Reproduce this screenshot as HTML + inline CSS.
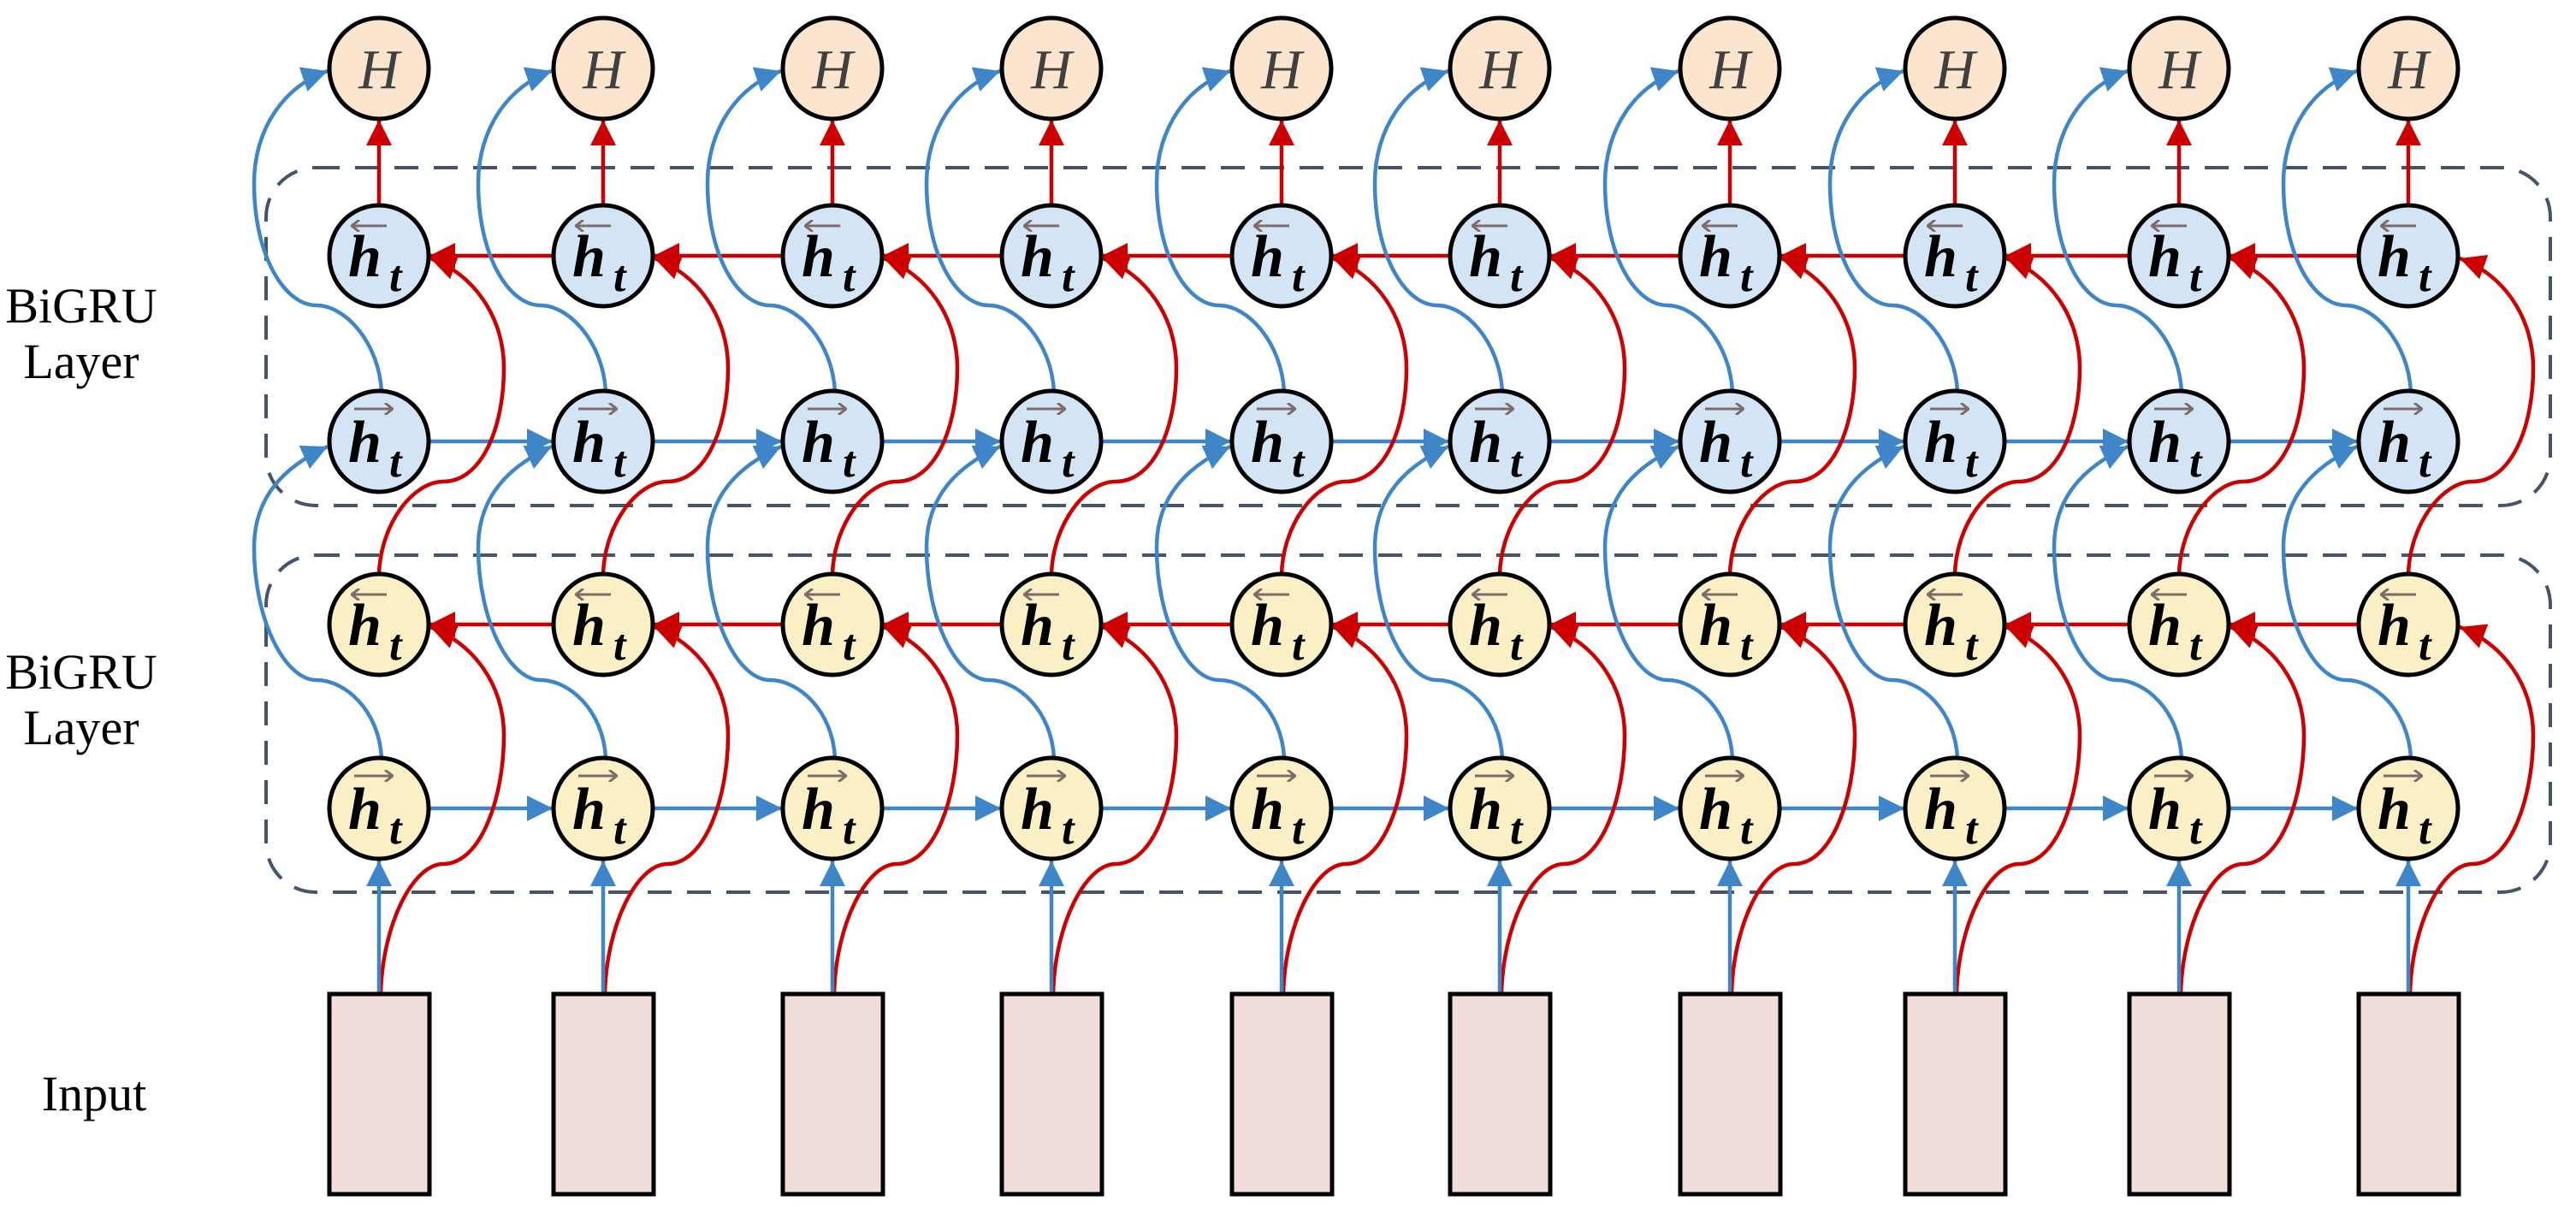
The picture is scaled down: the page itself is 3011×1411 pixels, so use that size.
<!DOCTYPE html>
<html><head><meta charset="utf-8"><style>
html,body{margin:0;padding:0;background:#fff}
svg{display:block}
.b{fill:none;stroke:#3f86c8;stroke-width:4.5}
.r{fill:none;stroke:#cc0000;stroke-width:4.5}
.n{stroke:#000;stroke-width:5}
.hf{fill:#fbe5cf}.bf{fill:#d3e4f5}.yf{fill:#fbefc6}
.h{font-family:"Liberation Serif",serif;font-style:italic;font-weight:bold;font-size:70px;fill:#000}
.t{font-family:"Liberation Serif",serif;font-style:italic;font-weight:bold;font-size:52px;fill:#000}
.H{font-family:"Liberation Serif",serif;font-style:italic;font-size:66px;fill:#404040}
.ar{fill:none;stroke:#7f6a6a;stroke-width:3}
.lbl{font-family:"Liberation Serif",serif;font-size:58px;fill:#000}
</style></head><body>
<svg width="3011" height="1411" viewBox="0 0 3011 1411" xmlns="http://www.w3.org/2000/svg">
<defs>
<marker id="mb" markerUnits="userSpaceOnUse" markerWidth="32" markerHeight="32" refX="30" refY="15" orient="auto"><path d="M0,0 L30,15 L0,30 z" fill="#3f86c8"/></marker>
<marker id="mr" markerUnits="userSpaceOnUse" markerWidth="32" markerHeight="32" refX="30" refY="15" orient="auto"><path d="M0,0 L30,15 L0,30 z" fill="#cc0000"/></marker>
<marker id="ma" markerUnits="userSpaceOnUse" markerWidth="12" markerHeight="14" refX="1" refY="7" orient="auto"><path d="M10,0 L1,7 L10,14" fill="none" stroke="#7f6a6a" stroke-width="3"/></marker>
<marker id="mz" markerUnits="userSpaceOnUse" markerWidth="12" markerHeight="14" refX="11" refY="7" orient="auto"><path d="M2,0 L11,7 L2,14" fill="none" stroke="#7f6a6a" stroke-width="3"/></marker>
<g id="col">
<path class="r" d="M0 240 V140" marker-end="url(#mr)"/>
<path class="b" d="M3 458 C0 400 -40 357 -73 357 C-110 357 -146 300 -146 214 C-146 150 -110 100 -60 83" marker-end="url(#mb)"/>
<path class="b" d="M3 886 C0 830 -40 795 -73 795 C-110 795 -146 725 -146 640 C-146 580 -110 545 -60 522" marker-end="url(#mb)"/>
<path class="r" d="M0 671 C2 612 40 563 75 563 C120 563 146 500 146 430 C146 370 110 320 60 302" marker-end="url(#mr)"/>
<path class="r" d="M2 1162 C4 1080 40 1010 75 1010 C120 1010 146 930 146 860 C146 800 110 752 60 733" marker-end="url(#mr)"/>
<path class="b" d="M0 1162 V1006" marker-end="url(#mb)"/>
<ellipse class="n hf" cx="0" cy="80" rx="58" ry="59"/>
<ellipse class="n bf" cx="0" cy="299" rx="58" ry="59"/>
<ellipse class="n bf" cx="0" cy="516" rx="58" ry="59"/>
<ellipse class="n yf" cx="0" cy="730" rx="58" ry="59"/>
<ellipse class="n yf" cx="0" cy="945" rx="58" ry="59"/>
<rect x="-58" y="1162" width="117" height="234" fill="#f0dcd9" stroke="#000" stroke-width="5"/>
</g>
</defs>
<rect x="311" y="196" width="2670" height="395" rx="58" fill="none" stroke="#44546a" stroke-width="4" stroke-dasharray="28 18"/>
<rect x="311" y="649" width="2670" height="394" rx="58" fill="none" stroke="#44546a" stroke-width="4" stroke-dasharray="28 18"/>
<text class="lbl" x="95" y="377" text-anchor="middle">BiGRU</text>
<text class="lbl" x="95" y="442" text-anchor="middle">Layer</text>
<text class="lbl" x="95" y="805" text-anchor="middle">BiGRU</text>
<text class="lbl" x="95" y="870" text-anchor="middle">Layer</text>
<text class="lbl" x="110" y="1298" text-anchor="middle">Input</text>
<g>
<path class="b" d="M502 516 H646" marker-end="url(#mb)"/><path class="b" d="M764 516 H914" marker-end="url(#mb)"/><path class="b" d="M1032 516 H1170" marker-end="url(#mb)"/><path class="b" d="M1288 516 H1439" marker-end="url(#mb)"/><path class="b" d="M1557 516 H1694" marker-end="url(#mb)"/><path class="b" d="M1812 516 H1963" marker-end="url(#mb)"/><path class="b" d="M2081 516 H2226" marker-end="url(#mb)"/><path class="b" d="M2344 516 H2488" marker-end="url(#mb)"/><path class="b" d="M2606 516 H2756" marker-end="url(#mb)"/>
<path class="b" d="M502 945 H646" marker-end="url(#mb)"/><path class="b" d="M764 945 H914" marker-end="url(#mb)"/><path class="b" d="M1032 945 H1170" marker-end="url(#mb)"/><path class="b" d="M1288 945 H1439" marker-end="url(#mb)"/><path class="b" d="M1557 945 H1694" marker-end="url(#mb)"/><path class="b" d="M1812 945 H1963" marker-end="url(#mb)"/><path class="b" d="M2081 945 H2226" marker-end="url(#mb)"/><path class="b" d="M2344 945 H2488" marker-end="url(#mb)"/><path class="b" d="M2606 945 H2756" marker-end="url(#mb)"/>
<path class="r" d="M646 299 H502" marker-end="url(#mr)"/><path class="r" d="M914 299 H764" marker-end="url(#mr)"/><path class="r" d="M1170 299 H1032" marker-end="url(#mr)"/><path class="r" d="M1439 299 H1288" marker-end="url(#mr)"/><path class="r" d="M1694 299 H1557" marker-end="url(#mr)"/><path class="r" d="M1963 299 H1812" marker-end="url(#mr)"/><path class="r" d="M2226 299 H2081" marker-end="url(#mr)"/><path class="r" d="M2488 299 H2344" marker-end="url(#mr)"/><path class="r" d="M2756 299 H2606" marker-end="url(#mr)"/>
<path class="r" d="M646 730 H502" marker-end="url(#mr)"/><path class="r" d="M914 730 H764" marker-end="url(#mr)"/><path class="r" d="M1170 730 H1032" marker-end="url(#mr)"/><path class="r" d="M1439 730 H1288" marker-end="url(#mr)"/><path class="r" d="M1694 730 H1557" marker-end="url(#mr)"/><path class="r" d="M1963 730 H1812" marker-end="url(#mr)"/><path class="r" d="M2226 730 H2081" marker-end="url(#mr)"/><path class="r" d="M2488 730 H2344" marker-end="url(#mr)"/><path class="r" d="M2756 730 H2606" marker-end="url(#mr)"/>
</g>
<use href="#col" x="443"/><use href="#col" x="705"/><use href="#col" x="973"/><use href="#col" x="1229"/><use href="#col" x="1498"/><use href="#col" x="1753"/><use href="#col" x="2022"/><use href="#col" x="2285"/><use href="#col" x="2547"/><use href="#col" x="2815"/>
<g>
<text class="H" x="443" y="103" text-anchor="middle">H</text><text class="H" x="705" y="103" text-anchor="middle">H</text><text class="H" x="973" y="103" text-anchor="middle">H</text><text class="H" x="1229" y="103" text-anchor="middle">H</text><text class="H" x="1498" y="103" text-anchor="middle">H</text><text class="H" x="1753" y="103" text-anchor="middle">H</text><text class="H" x="2022" y="103" text-anchor="middle">H</text><text class="H" x="2285" y="103" text-anchor="middle">H</text><text class="H" x="2547" y="103" text-anchor="middle">H</text><text class="H" x="2815" y="103" text-anchor="middle">H</text>
</g>
<g>
<text class="h" x="407" y="323">h</text><text class="t" x="455" y="340">t</text>
<text class="h" x="669" y="323">h</text><text class="t" x="717" y="340">t</text>
<text class="h" x="937" y="323">h</text><text class="t" x="985" y="340">t</text>
<text class="h" x="1193" y="323">h</text><text class="t" x="1241" y="340">t</text>
<text class="h" x="1462" y="323">h</text><text class="t" x="1510" y="340">t</text>
<text class="h" x="1717" y="323">h</text><text class="t" x="1765" y="340">t</text>
<text class="h" x="1986" y="323">h</text><text class="t" x="2034" y="340">t</text>
<text class="h" x="2249" y="323">h</text><text class="t" x="2297" y="340">t</text>
<text class="h" x="2511" y="323">h</text><text class="t" x="2559" y="340">t</text>
<text class="h" x="2779" y="323">h</text><text class="t" x="2827" y="340">t</text>
</g>
<g>
<text class="h" x="407" y="540">h</text><text class="t" x="455" y="557">t</text>
<text class="h" x="669" y="540">h</text><text class="t" x="717" y="557">t</text>
<text class="h" x="937" y="540">h</text><text class="t" x="985" y="557">t</text>
<text class="h" x="1193" y="540">h</text><text class="t" x="1241" y="557">t</text>
<text class="h" x="1462" y="540">h</text><text class="t" x="1510" y="557">t</text>
<text class="h" x="1717" y="540">h</text><text class="t" x="1765" y="557">t</text>
<text class="h" x="1986" y="540">h</text><text class="t" x="2034" y="557">t</text>
<text class="h" x="2249" y="540">h</text><text class="t" x="2297" y="557">t</text>
<text class="h" x="2511" y="540">h</text><text class="t" x="2559" y="557">t</text>
<text class="h" x="2779" y="540">h</text><text class="t" x="2827" y="557">t</text>
</g>
<g>
<text class="h" x="407" y="754">h</text><text class="t" x="455" y="771">t</text>
<text class="h" x="669" y="754">h</text><text class="t" x="717" y="771">t</text>
<text class="h" x="937" y="754">h</text><text class="t" x="985" y="771">t</text>
<text class="h" x="1193" y="754">h</text><text class="t" x="1241" y="771">t</text>
<text class="h" x="1462" y="754">h</text><text class="t" x="1510" y="771">t</text>
<text class="h" x="1717" y="754">h</text><text class="t" x="1765" y="771">t</text>
<text class="h" x="1986" y="754">h</text><text class="t" x="2034" y="771">t</text>
<text class="h" x="2249" y="754">h</text><text class="t" x="2297" y="771">t</text>
<text class="h" x="2511" y="754">h</text><text class="t" x="2559" y="771">t</text>
<text class="h" x="2779" y="754">h</text><text class="t" x="2827" y="771">t</text>
</g>
<g>
<text class="h" x="407" y="969">h</text><text class="t" x="455" y="986">t</text>
<text class="h" x="669" y="969">h</text><text class="t" x="717" y="986">t</text>
<text class="h" x="937" y="969">h</text><text class="t" x="985" y="986">t</text>
<text class="h" x="1193" y="969">h</text><text class="t" x="1241" y="986">t</text>
<text class="h" x="1462" y="969">h</text><text class="t" x="1510" y="986">t</text>
<text class="h" x="1717" y="969">h</text><text class="t" x="1765" y="986">t</text>
<text class="h" x="1986" y="969">h</text><text class="t" x="2034" y="986">t</text>
<text class="h" x="2249" y="969">h</text><text class="t" x="2297" y="986">t</text>
<text class="h" x="2511" y="969">h</text><text class="t" x="2559" y="986">t</text>
<text class="h" x="2779" y="969">h</text><text class="t" x="2827" y="986">t</text>
</g>
<g>
<path class="ar" d="M411 264 H452" marker-start="url(#ma)"/><path class="ar" d="M673 264 H714" marker-start="url(#ma)"/><path class="ar" d="M941 264 H982" marker-start="url(#ma)"/><path class="ar" d="M1197 264 H1238" marker-start="url(#ma)"/><path class="ar" d="M1466 264 H1507" marker-start="url(#ma)"/><path class="ar" d="M1721 264 H1762" marker-start="url(#ma)"/><path class="ar" d="M1990 264 H2031" marker-start="url(#ma)"/><path class="ar" d="M2253 264 H2294" marker-start="url(#ma)"/><path class="ar" d="M2515 264 H2556" marker-start="url(#ma)"/><path class="ar" d="M2783 264 H2824" marker-start="url(#ma)"/>
<path class="ar" d="M411 695 H452" marker-start="url(#ma)"/><path class="ar" d="M673 695 H714" marker-start="url(#ma)"/><path class="ar" d="M941 695 H982" marker-start="url(#ma)"/><path class="ar" d="M1197 695 H1238" marker-start="url(#ma)"/><path class="ar" d="M1466 695 H1507" marker-start="url(#ma)"/><path class="ar" d="M1721 695 H1762" marker-start="url(#ma)"/><path class="ar" d="M1990 695 H2031" marker-start="url(#ma)"/><path class="ar" d="M2253 695 H2294" marker-start="url(#ma)"/><path class="ar" d="M2515 695 H2556" marker-start="url(#ma)"/><path class="ar" d="M2783 695 H2824" marker-start="url(#ma)"/>
<path class="ar" d="M414 478 H459" marker-end="url(#mz)"/><path class="ar" d="M676 478 H721" marker-end="url(#mz)"/><path class="ar" d="M944 478 H989" marker-end="url(#mz)"/><path class="ar" d="M1200 478 H1245" marker-end="url(#mz)"/><path class="ar" d="M1469 478 H1514" marker-end="url(#mz)"/><path class="ar" d="M1724 478 H1769" marker-end="url(#mz)"/><path class="ar" d="M1993 478 H2038" marker-end="url(#mz)"/><path class="ar" d="M2256 478 H2301" marker-end="url(#mz)"/><path class="ar" d="M2518 478 H2563" marker-end="url(#mz)"/><path class="ar" d="M2786 478 H2831" marker-end="url(#mz)"/>
<path class="ar" d="M414 907 H459" marker-end="url(#mz)"/><path class="ar" d="M676 907 H721" marker-end="url(#mz)"/><path class="ar" d="M944 907 H989" marker-end="url(#mz)"/><path class="ar" d="M1200 907 H1245" marker-end="url(#mz)"/><path class="ar" d="M1469 907 H1514" marker-end="url(#mz)"/><path class="ar" d="M1724 907 H1769" marker-end="url(#mz)"/><path class="ar" d="M1993 907 H2038" marker-end="url(#mz)"/><path class="ar" d="M2256 907 H2301" marker-end="url(#mz)"/><path class="ar" d="M2518 907 H2563" marker-end="url(#mz)"/><path class="ar" d="M2786 907 H2831" marker-end="url(#mz)"/>
</g>
</svg>
</body></html>
